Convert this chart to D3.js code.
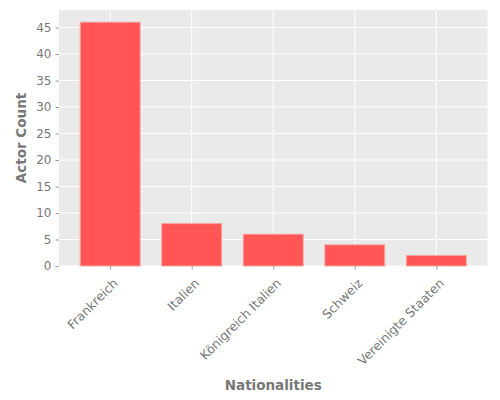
<!DOCTYPE html>
<html>
<head>
<meta charset="utf-8">
<script src="https://d3js.org/d3.v7.min.js"></script>
<style>
  body { margin: 0; background: #fff; }
  text { font-family: "DejaVu Sans", sans-serif; }
</style>
</head>
<body>
<svg id="chart" width="500" height="400"></svg>
<script>
  const nationalities = ['Frankreich', 'Italien', 'Königreich Italien', 'Schweiz', 'Vereinigte Staaten'];
  const actorCounts = [46, 8, 6, 4, 2];
  const yTicks = [0, 5, 10, 15, 20, 25, 30, 35, 40, 45];

  const plotLeft = 59, plotRight = 487.5, plotTop = 10, plotBottom = 266;
  const barFrac = 0.735, pad = 0.26;
  const svg = d3.select("#chart");

  const x = d3.scaleLinear()
    .domain([-barFrac / 2 - pad, nationalities.length - 1 + barFrac / 2 + pad])
    .range([plotLeft, plotRight]);
  const y = d3.scaleLinear().domain([0, d3.max(actorCounts) * 1.05]).range([plotBottom, plotTop]);
  const barW = x(barFrac / 2) - x(-barFrac / 2);

  svg.append("rect")
    .attr("x", plotLeft).attr("y", plotTop)
    .attr("width", plotRight - plotLeft).attr("height", plotBottom - plotTop)
    .attr("fill", "#eaeaea");

  // grid
  svg.append("g").selectAll("line").data(yTicks).join("line")
    .attr("x1", plotLeft).attr("x2", plotRight)
    .attr("y1", d => y(d)).attr("y2", d => y(d))
    .attr("stroke", "#fff").attr("stroke-width", 1);
  svg.append("g").selectAll("line").data(d3.range(nationalities.length)).join("line")
    .attr("x1", d => x(d)).attr("x2", d => x(d))
    .attr("y1", plotTop).attr("y2", plotBottom)
    .attr("stroke", "#fff").attr("stroke-width", 1);

  // bars
  svg.append("g").selectAll("rect").data(actorCounts).join("rect")
    .attr("x", (d, i) => x(i) - barW / 2)
    .attr("y", d => y(d))
    .attr("width", barW)
    .attr("height", d => plotBottom - y(d))
    .attr("fill", "#ff5555")
    .attr("stroke", "#f7a3a3")
    .attr("stroke-width", 1);

  // y axis
  const yAxis = svg.append("g")
    .attr("transform", `translate(${plotLeft},0)`)
    .call(d3.axisLeft(y).tickValues(yTicks).tickSize(3.5).tickPadding(4));
  yAxis.select(".domain").remove();
  yAxis.selectAll("line").attr("stroke", "#999");
  yAxis.selectAll("text").attr("fill", "#777").attr("font-size", 12)
    .style("font-family", "DejaVu Sans, sans-serif");

  // x axis
  const xAxis = svg.append("g")
    .attr("transform", `translate(0,${plotBottom})`)
    .call(d3.axisBottom(x).tickValues(d3.range(nationalities.length)).tickSize(3.5).tickFormat(i => nationalities[i]));
  xAxis.select(".domain").remove();
  xAxis.selectAll("line").attr("stroke", "#999");
  xAxis.selectAll("text")
    .attr("fill", "#777").attr("font-size", 12.5)
    .style("font-family", "DejaVu Sans, sans-serif")
    .attr("text-anchor", "end")
    .attr("dy", null).attr("y", null)
    .attr("transform", "translate(8,18) rotate(-45)");

  // axis labels
  svg.append("text")
    .attr("x", (plotLeft + plotRight) / 2).attr("y", 390)
    .attr("text-anchor", "middle")
    .attr("font-size", 13.5).attr("font-weight", "bold").attr("fill", "#777")
    .text("Nationalities");
  svg.append("text")
    .attr("transform", `translate(26,${(plotTop + plotBottom) / 2}) rotate(-90)`)
    .attr("text-anchor", "middle")
    .attr("font-size", 13.5).attr("font-weight", "bold").attr("fill", "#777")
    .text("Actor Count");
</script>
</body>
</html>
